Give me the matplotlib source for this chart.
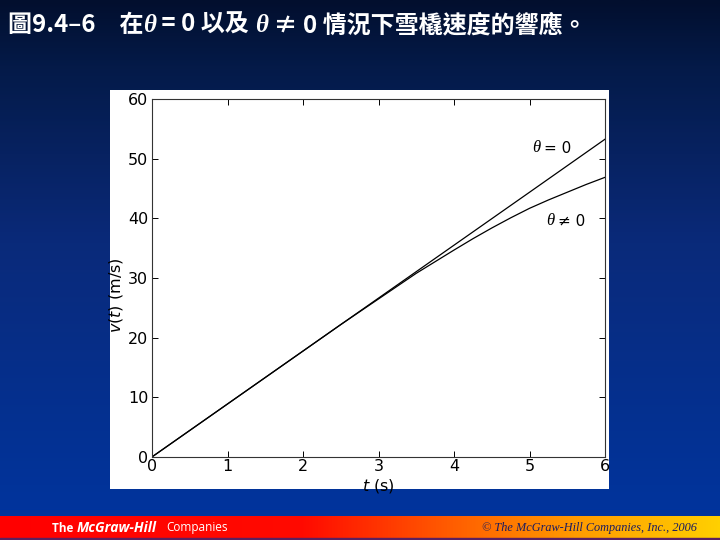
import numpy as np
import matplotlib
matplotlib.use("Agg")
import matplotlib.pyplot as plt
from matplotlib.colors import LinearSegmentedColormap

# ---- data ----
t_zero = [0, 1, 2, 3, 4, 5, 6]
v_zero = [0, 8.88, 17.76, 26.64, 35.52, 44.4, 53.3]

t_nonzero = [0, 1, 2, 2.5, 3, 3.5, 4, 4.25, 4.5, 4.75, 5, 5.25, 5.5, 5.75, 6]
v_nonzero = [0, 8.88, 17.76, 22.2, 26.5, 30.8, 34.7, 36.6, 38.4, 40.1, 41.7, 43.1, 44.4, 45.7, 46.9]

x_ticks = [0, 1, 2, 3, 4, 5, 6]
y_ticks = [0, 10, 20, 30, 40, 50, 60]

title_parts = ["圖9.4–6　在", "θ", " = 0 以及 ", "θ", " ≠ 0 情況下雪橇速度的響應。"]

plt.rcParams['font.family'] = ['DejaVu Sans']
plt.rcParams['mathtext.fontset'] = 'custom'
plt.rcParams['mathtext.it'] = 'DejaVu Sans:italic'
plt.rcParams['mathtext.rm'] = 'DejaVu Sans'

fig = plt.figure(figsize=(7.2, 5.4), dpi=100)

# background gradient
bg = fig.add_axes([0, 0, 1, 1], zorder=-10)
bg.set_axis_off()
grad = np.linspace(0, 1, 256).reshape(-1, 1)
cmap_bg = LinearSegmentedColormap.from_list(
    "bg", [(0.0, "#020f2e"), (0.12, "#041a48"), (0.45, "#0a2a7a"), (1.0, "#0035a0")])
bg.imshow(grad, aspect="auto", cmap=cmap_bg, extent=[0, 1, 0, 1], origin="upper")

# bottom bar
bar_h = np.linspace(0, 1, 512).reshape(1, -1)
cmap_bar = LinearSegmentedColormap.from_list(
    "bar", [(0.0, "#ff0000"), (0.42, "#ff0a00"), (0.62, "#ff5a00"), (0.8, "#ff9a00"), (1.0, "#ffd000")])
bg.imshow(bar_h, aspect="auto", cmap=cmap_bar, extent=[0, 1, 2 / 540, 24 / 540])
bg.fill_between([0, 1], 0, 2 / 540, color="#5a2060")
bg.set_xlim(0, 1)
bg.set_ylim(0, 1)

fig.text(52 / 720, 1 - 528 / 540, "The ", color="white", fontsize=8.5,
         family="Open Sans", fontweight="bold", va="center", ha="left")
fig.text(77 / 720, 1 - 528 / 540, "McGraw-Hill", color="white", fontsize=10,
         family="Open Sans", fontweight="bold", style="italic", va="center", ha="left")
fig.text(166 / 720, 1 - 528 / 540, "Companies", color="white", fontsize=8.5,
         family="Open Sans", va="center", ha="left")
fig.text(697 / 720, 1 - 528 / 540, "© The McGraw-Hill Companies, Inc., 2006",
         color="#1c1c60", fontsize=8.8, family="Liberation Serif", style="italic",
         va="center", ha="right")

# title built piece by piece (italic serif theta)
renderer = fig.canvas.get_renderer()
x_px = 8.0
for part in title_parts:
    if part == "θ":
        kw = dict(family=["Liberation Serif"], style="italic", fontweight="bold", fontsize=18)
    else:
        kw = dict(family=["Noto Sans CJK TC", "DejaVu Sans"], fontweight="bold", fontsize=17.3)
    txt = fig.text(x_px / 720, 1 - 25 / 540, part, color="white", va="center", ha="left", **kw)
    bb = txt.get_window_extent(renderer=renderer)
    x_px += bb.width

# white panel
panel = fig.add_axes([110 / 720, 1 - 489 / 540, 499 / 720, 399 / 540], zorder=-5)
panel.set_facecolor("white")
panel.set_xticks([])
panel.set_yticks([])
for s in panel.spines.values():
    s.set_visible(False)

# main axes
ax = fig.add_axes([152.3 / 720, 1 - 456.7 / 540, 452.7 / 720, 357.4 / 540])
ax.set_facecolor("white")
ax.plot(t_zero, v_zero, color="black", lw=0.9)
ax.plot(t_nonzero, v_nonzero, color="black", lw=0.9)
ax.set_xlim(0, 6)
ax.set_ylim(0, 60)
ax.set_xticks(x_ticks)
ax.set_yticks(y_ticks)
ax.tick_params(direction="in", top=True, right=True, length=4, width=0.7,
               labelsize=11.5, colors="black")
ax.tick_params(axis="y", pad=3)
ax.tick_params(axis="x", pad=1.5)
for s in ax.spines.values():
    s.set_linewidth(0.8)
    s.set_color("#333333")
ax.set_xlabel(r"$t$ (s)", fontsize=11.5)
ax.set_ylabel(r"$v$($t$) (m/s)", fontsize=11.5)
ax.xaxis.set_label_coords(0.5, -0.056)
ax.yaxis.set_label_coords(-0.06, 0.452)

# curve labels
ax.text(5.14, 51.8, "θ", family="Liberation Serif", style="italic", fontsize=12,
        ha="right", va="center")
ax.text(5.19, 51.8, "= 0", fontsize=11, ha="left", va="center")
ax.text(5.33, 39.5, "θ", family="Liberation Serif", style="italic", fontsize=12,
        ha="right", va="center")
ax.text(5.38, 39.5, "≠ 0", fontsize=11, ha="left", va="center")

fig.savefig("out.png", dpi=100)
